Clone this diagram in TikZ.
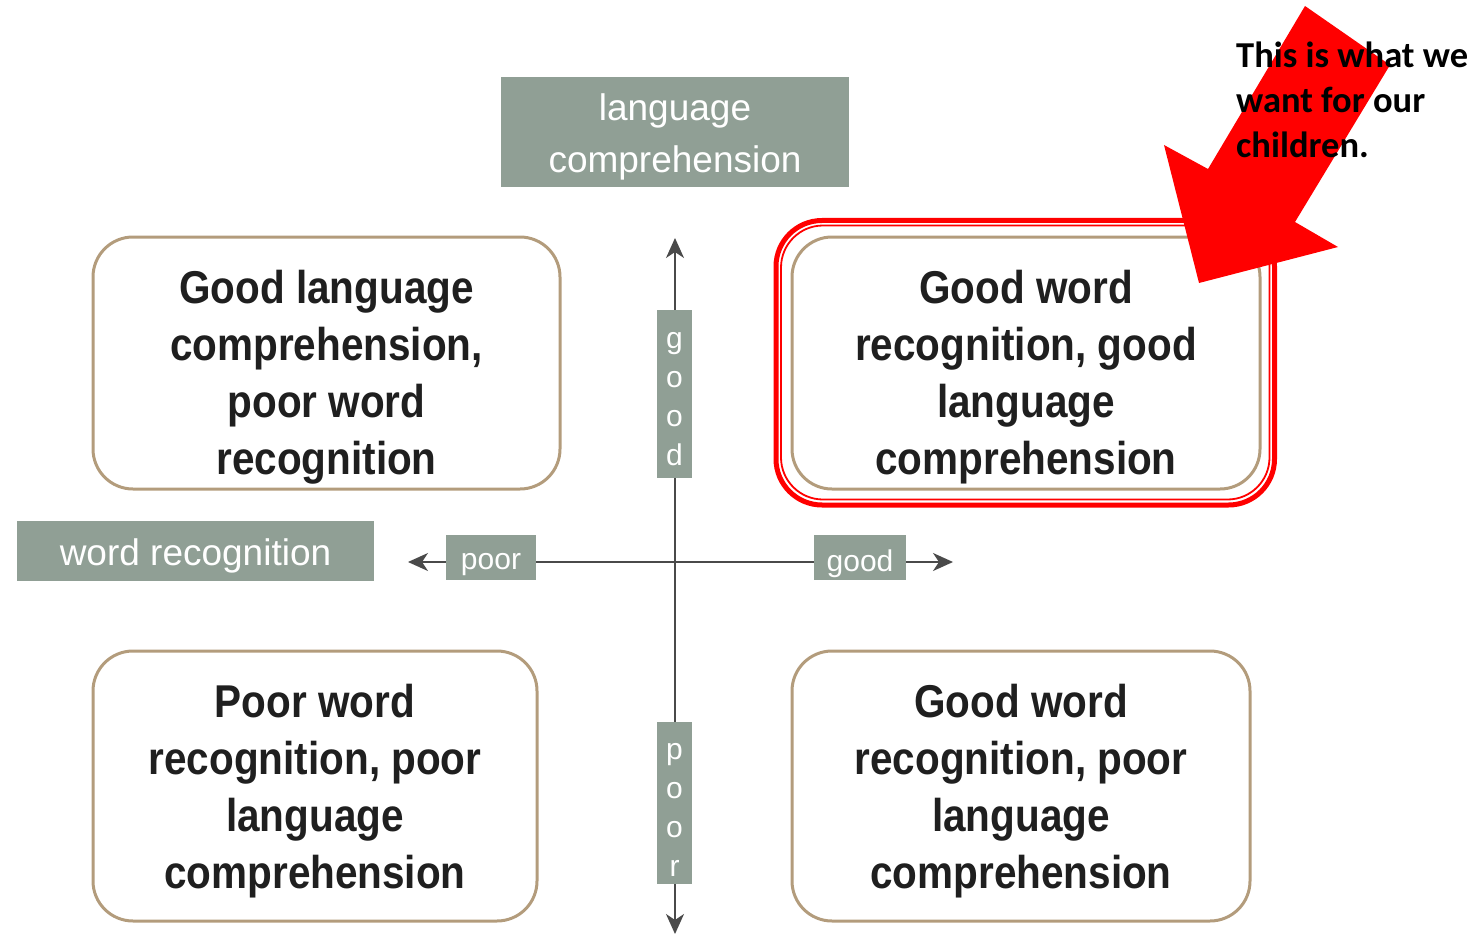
\documentclass[tikz,border=0pt]{standalone}
\usepackage{fontspec}
\setmainfont{Liberation Sans}
\newfontfamily\boxfont[FakeStretch=0.88]{Liberation Sans}
\newfontfamily\carl{Carlito}
\usetikzlibrary{arrows.meta}
\definecolor{sage}{HTML}{909F95}
\definecolor{boxtan}{HTML}{B39C7C}
\definecolor{axisgray}{HTML}{4A4A4A}
\definecolor{hired}{HTML}{FF0000}
\begin{document}
\begin{tikzpicture}[x=1pt,y=-1pt,
  sagebox/.style={fill=sage, inner sep=0pt},
  sagetext/.style={text=white, inner sep=0pt, align=center, font=\fontsize{37}{52}\selectfont},
  smalltext/.style={sagetext, font=\fontsize{30}{39}\selectfont},
  quad/.style={draw=boxtan, line width=3pt, rounded corners=40pt, fill=white, inner sep=0pt},
  boxtext/.style={font=\boxfont\bfseries\fontsize{46}{57}\selectfont, align=center, text=black!88, inner sep=0pt},
  axis/.style={draw=axisgray, line width=1.8pt, {Stealth[length=20pt,width=18pt,inset=6pt]}-{Stealth[length=20pt,width=18pt,inset=6pt]}},
  hilite/.style={draw=hired, rounded corners=46pt}]
\useasboundingbox (0,0) rectangle (1480,936);

% axes
\coordinate (vt) at (675,238);
\coordinate (vb) at (675,934);
\coordinate (hl) at (408,562);
\coordinate (hr) at (953,562);
\draw[axis] (vb) -- (vt);
\draw[axis] (hl) -- (hr);

% axis labels
\node[sagebox, minimum width=348pt, minimum height=110pt] (lc) at (675,132) {};
\node[sagetext] (lct) at ([yshift=-5pt]lc.center) {language\\comprehension};
\node[sagebox, minimum width=357pt, minimum height=60pt] (wr) at (195.5,551) {};
\node[sagetext] (wrt) at ([yshift=-5pt]wr.center) {word recognition};
\node[sagebox, minimum width=90pt, minimum height=45pt] (hp) at (491,557.5) {};
\node[smalltext] (hpt) at ([yshift=-7pt]hp.center) {poor};
\node[sagebox, minimum width=92pt, minimum height=45pt] (hg) at (860,557.5) {};
\node[smalltext] (hgt) at ([yshift=-6pt]hg.center) {good};
\node[sagebox, minimum width=35pt, minimum height=168pt] (vg) at (674.5,394) {};
\node[smalltext] (vgt) at ([yshift=-5pt]vg.center) {g\\o\\o\\d};
\node[sagebox, minimum width=35pt, minimum height=162pt] (vp) at (674.5,803) {};
\node[smalltext] (vpt) at ([yshift=-7pt]vp.center) {p\\o\\o\\r};

% quadrant boxes
\node[quad, minimum width=467pt, minimum height=252pt] (tl) at (326.5,363) {};
\node[quad, minimum width=468pt, minimum height=252pt] (tr) at (1026,363) {};
\node[quad, minimum width=444pt, minimum height=270pt] (bl) at (315,786) {};
\node[quad, minimum width=458pt, minimum height=270pt] (br) at (1021,786) {};
\node[boxtext] (tlt) at ([yshift=-14pt]tl.center) {Good language\\comprehension,\\poor word\\recognition};
\node[boxtext] (trt) at ([yshift=-14pt]tr.center) {Good word\\recognition, good\\language\\comprehension};
\node[boxtext] (blt) at ([yshift=-5pt]bl.center) {Poor word\\recognition, poor\\language\\comprehension};
\node[boxtext] (brt) at ([yshift=-5pt]br.center) {Good word\\recognition, poor\\language\\comprehension};

% highlight of the top right box
\draw[hilite, line width=5pt] (776,220.5) rectangle (1274.5,505);
\draw[hilite, line width=1.8pt, rounded corners=42pt] (781,225.5) rectangle (1269.5,499.5);

% red block arrow
\fill[hired] (1305,6) -- (1390,65) -- (1295,222) -- (1338,247) -- (1199,283) -- (1164,145) -- (1208,169) -- cycle;
\node[anchor=north west, inner sep=0pt, align=left, font=\carl\bfseries\fontsize{36.5}{45}\selectfont] (note) at (1236,42) {This is what we\\want for our\\children.};
\end{tikzpicture}
\end{document}
